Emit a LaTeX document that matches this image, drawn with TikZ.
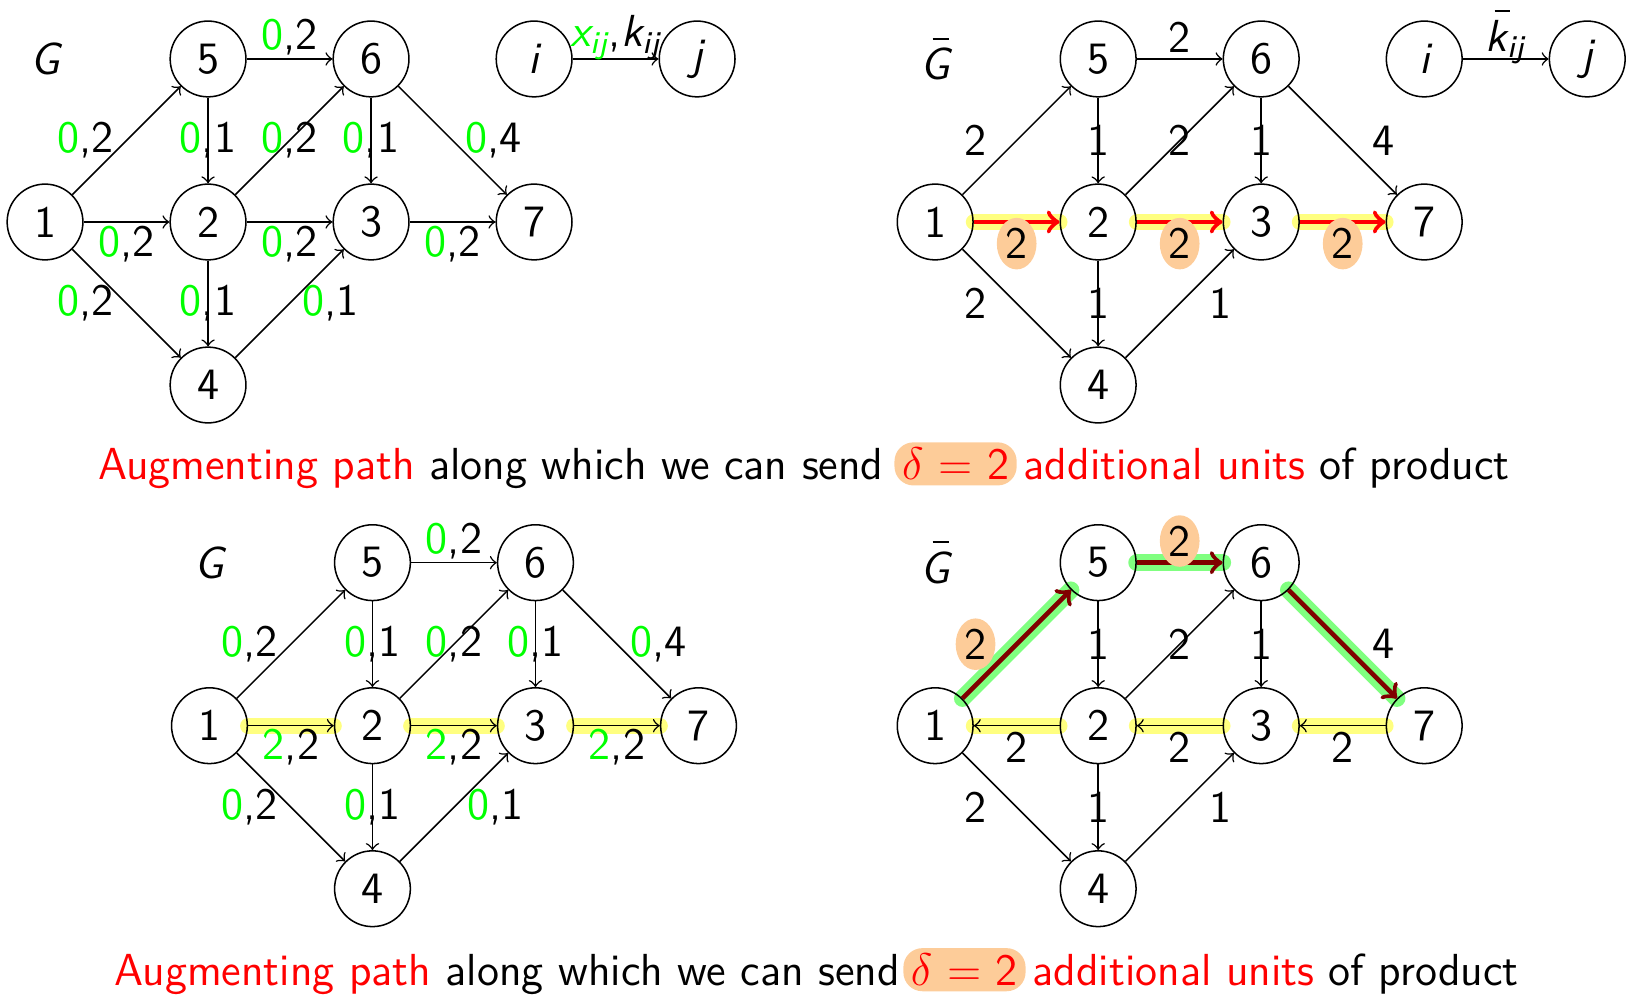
\documentclass[tikz,border=0pt]{standalone}
\usepackage{amsmath}
\usetikzlibrary{shapes.geometric,backgrounds}
\definecolor{hlyellow}{RGB}{255,255,128}
\definecolor{hlgreen}{RGB}{128,255,128}
\definecolor{peach}{RGB}{253,204,153}
\definecolor{darkred}{RGB}{128,0,0}
\definecolor{flowgreen}{RGB}{0,255,0}
\newcommand\fz{\textcolor{flowgreen}{0}}
\newcommand\ft{\textcolor{flowgreen}{2}}
\newcommand\Gbar{\makebox[0pt][l]{\hspace{0.27em}\rule[0.9em]{0.36em}{0.045em}}{\itshape G}}
\newcommand\kbar{\makebox[0pt][l]{\hspace{0.2em}\rule[0.86em]{0.34em}{0.045em}}{\itshape k}}
\tikzset{
  vtx/.style={circle,draw,minimum size=0.7cm,inner sep=0pt},
  gname/.style={inner sep=0pt},
  arc/.style={->},
  lbl/.style={inner sep=0pt},
  lft/.style={xshift=-0.38cm},
  rgt/.style={xshift=0.38cm},
  abv/.style={yshift=0.2cm},
  blw/.style={yshift=-0.2cm},
  olbl/.style={ellipse,fill=peach,inner sep=0.8pt},
  hly/.style={line width=4.2pt,draw=hlyellow,line cap=round},
  hlg/.style={line width=4.5pt,draw=hlgreen,line cap=round},
  redarc/.style={->,draw=red,line width=1.2pt},
  darkarc/.style={->,draw=darkred,line width=1.2pt},
  hlbox/.style={fill=peach,rounded corners=5pt,inner xsep=2pt,inner ysep=1.5pt,text=red},
  captxt/.style={inner sep=0pt},
}
\newcommand\mknodes[1]{%
  \node[vtx] (#11) at (0,0) {1};
  \node[vtx] (#12) at (1,0) {2};
  \node[vtx] (#13) at (2,0) {3};
  \node[vtx] (#17) at (3,0) {7};
  \node[vtx] (#15) at (1,1) {5};
  \node[vtx] (#16) at (2,1) {6};
  \node[vtx] (#14) at (1,-1) {4};
}
\begin{document}
\begin{tikzpicture}[x=0.009676cm,y=-0.009676cm,font=\sffamily\fontsize{11.8}{14}\selectfont]
\useasboundingbox (0,0) rectangle (1568,955);

% ---------- top left: G ----------
\begin{scope}[shift={(43,212)},x=1.506cm,y=1.506cm]
  \mknodes{a}
  \node[vtx] (ai) at (3,1) {\itshape i};
  \node[vtx] (aj) at (4,1) {\itshape j};
  \node[gname] (aG) at (0,1) {\itshape G};
  \draw[arc] (a1) -- node[lbl,lft]{\fz,2} (a5);
  \draw[arc] (a1) -- node[lbl,blw]{\fz,2} (a2);
  \draw[arc] (a1) -- node[lbl,lft]{\fz,2} (a4);
  \draw[arc] (a5) -- node[lbl,abv]{\fz,2} (a6);
  \draw[arc] (a5) -- node[lbl]{\fz,1} (a2);
  \draw[arc] (a2) -- node[lbl]{\fz,2} (a6);
  \draw[arc] (a6) -- node[lbl]{\fz,1} (a3);
  \draw[arc] (a6) -- node[lbl,rgt]{\fz,4} (a7);
  \draw[arc] (a2) -- node[lbl,blw]{\fz,2} (a3);
  \draw[arc] (a3) -- node[lbl,blw]{\fz,2} (a7);
  \draw[arc] (a2) -- node[lbl]{\fz,1} (a4);
  \draw[arc] (a4) -- node[lbl,rgt]{\fz,1} (a3);
  \draw[arc] (ai) -- node[lbl,abv]{$\textcolor{flowgreen}{\text{\itshape x}_{\text{\itshape ij}}}$,$\text{\itshape k}_{\text{\itshape ij}}$} (aj);
\end{scope}

% ---------- top right: G bar ----------
\begin{scope}[shift={(893,212)},x=1.506cm,y=1.506cm]
  \mknodes{b}
  \node[vtx] (bi) at (3,1) {\itshape i};
  \node[vtx] (bj) at (4,1) {\itshape j};
  \node[gname] (bG) at (0,1) {\Gbar};
  \begin{scope}[on background layer]
    \draw[hly] (b1) -- (b2);
    \draw[hly] (b2) -- (b3);
    \draw[hly] (b3) -- (b7);
  \end{scope}
  \draw[arc] (b1) -- node[lbl,lft]{2} (b5);
  \draw[arc] (b5) -- node[lbl,abv]{2} (b6);
  \draw[arc] (b5) -- node[lbl]{1} (b2);
  \draw[arc] (b2) -- node[lbl]{2} (b6);
  \draw[arc] (b6) -- node[lbl]{1} (b3);
  \draw[arc] (b6) -- node[lbl,rgt]{4} (b7);
  \draw[arc] (b1) -- node[lbl,lft]{2} (b4);
  \draw[arc] (b2) -- node[lbl]{1} (b4);
  \draw[arc] (b4) -- node[lbl,rgt]{1} (b3);
  \draw[redarc] (b1) -- node[lbl,olbl,blw]{2} (b2);
  \draw[redarc] (b2) -- node[lbl,olbl,blw]{2} (b3);
  \draw[redarc] (b3) -- node[lbl,olbl,blw]{2} (b7);
  \draw[arc] (bi) -- node[lbl,abv]{$\text{\kbar}_{\text{\itshape ij}}$} (bj);
\end{scope}

% ---------- bottom left: G ----------
\begin{scope}[shift={(200,693)},x=1.506cm,y=1.506cm]
  \mknodes{c}
  \node[gname] (cG) at (0,1) {\itshape G};
  \begin{scope}[on background layer]
    \draw[hly] (c1) -- (c2);
    \draw[hly] (c2) -- (c3);
    \draw[hly] (c3) -- (c7);
  \end{scope}
  \draw[arc] (c1) -- node[lbl,lft]{\fz,2} (c5);
  \draw[arc] (c1) -- node[lbl,blw]{\ft,2} (c2);
  \draw[arc] (c1) -- node[lbl,lft]{\fz,2} (c4);
  \draw[arc] (c5) -- node[lbl,abv]{\fz,2} (c6);
  \draw[arc] (c5) -- node[lbl]{\fz,1} (c2);
  \draw[arc] (c2) -- node[lbl]{\fz,2} (c6);
  \draw[arc] (c6) -- node[lbl]{\fz,1} (c3);
  \draw[arc] (c6) -- node[lbl,rgt]{\fz,4} (c7);
  \draw[arc] (c2) -- node[lbl,blw]{\ft,2} (c3);
  \draw[arc] (c3) -- node[lbl,blw]{\ft,2} (c7);
  \draw[arc] (c2) -- node[lbl]{\fz,1} (c4);
  \draw[arc] (c4) -- node[lbl,rgt]{\fz,1} (c3);
\end{scope}

% ---------- bottom right: G bar ----------
\begin{scope}[shift={(893,693)},x=1.506cm,y=1.506cm]
  \mknodes{d}
  \node[gname] (dG) at (0,1) {\Gbar};
  \begin{scope}[on background layer]
    \draw[hly] (d2) -- (d1);
    \draw[hly] (d3) -- (d2);
    \draw[hly] (d7) -- (d3);
    \draw[hlg] (d1) -- (d5);
    \draw[hlg] (d5) -- (d6);
    \draw[hlg] (d6) -- (d7);
  \end{scope}
  \draw[darkarc] (d1) -- node[lbl,olbl,lft]{2} (d5);
  \draw[darkarc] (d5) -- node[lbl,olbl,abv]{2} (d6);
  \draw[darkarc] (d6) -- node[lbl,rgt]{4} (d7);
  \draw[arc] (d5) -- node[lbl]{1} (d2);
  \draw[arc] (d2) -- node[lbl]{2} (d6);
  \draw[arc] (d6) -- node[lbl]{1} (d3);
  \draw[arc] (d2) -- node[lbl,blw]{2} (d1);
  \draw[arc] (d3) -- node[lbl,blw]{2} (d2);
  \draw[arc] (d7) -- node[lbl,blw]{2} (d3);
  \draw[arc] (d1) -- node[lbl,lft]{2} (d4);
  \draw[arc] (d2) -- node[lbl]{1} (d4);
  \draw[arc] (d4) -- node[lbl,rgt]{1} (d3);
\end{scope}

% ---------- captions ----------
\node[hlbox] (del1) at (912.5,443) {$\delta$ = 2};
\node[captxt,anchor=base east,xshift=-2.5pt] (cap1l) at (del1.base west) {\textcolor{red}{Augmenting path} along which we can send};
\node[captxt,anchor=base west,xshift=1.5pt] (cap1r) at (del1.base east) {\textcolor{red}{additional units} of product};

\node[hlbox] (del2) at (921,926) {$\delta$ = 2};
\node[captxt,anchor=base east,xshift=-0.5pt] (cap2l) at (del2.base west) {\textcolor{red}{Augmenting path} along which we can send};
\node[captxt,anchor=base west,xshift=1.5pt] (cap2r) at (del2.base east) {\textcolor{red}{additional units} of product};
\end{tikzpicture}
\end{document}
